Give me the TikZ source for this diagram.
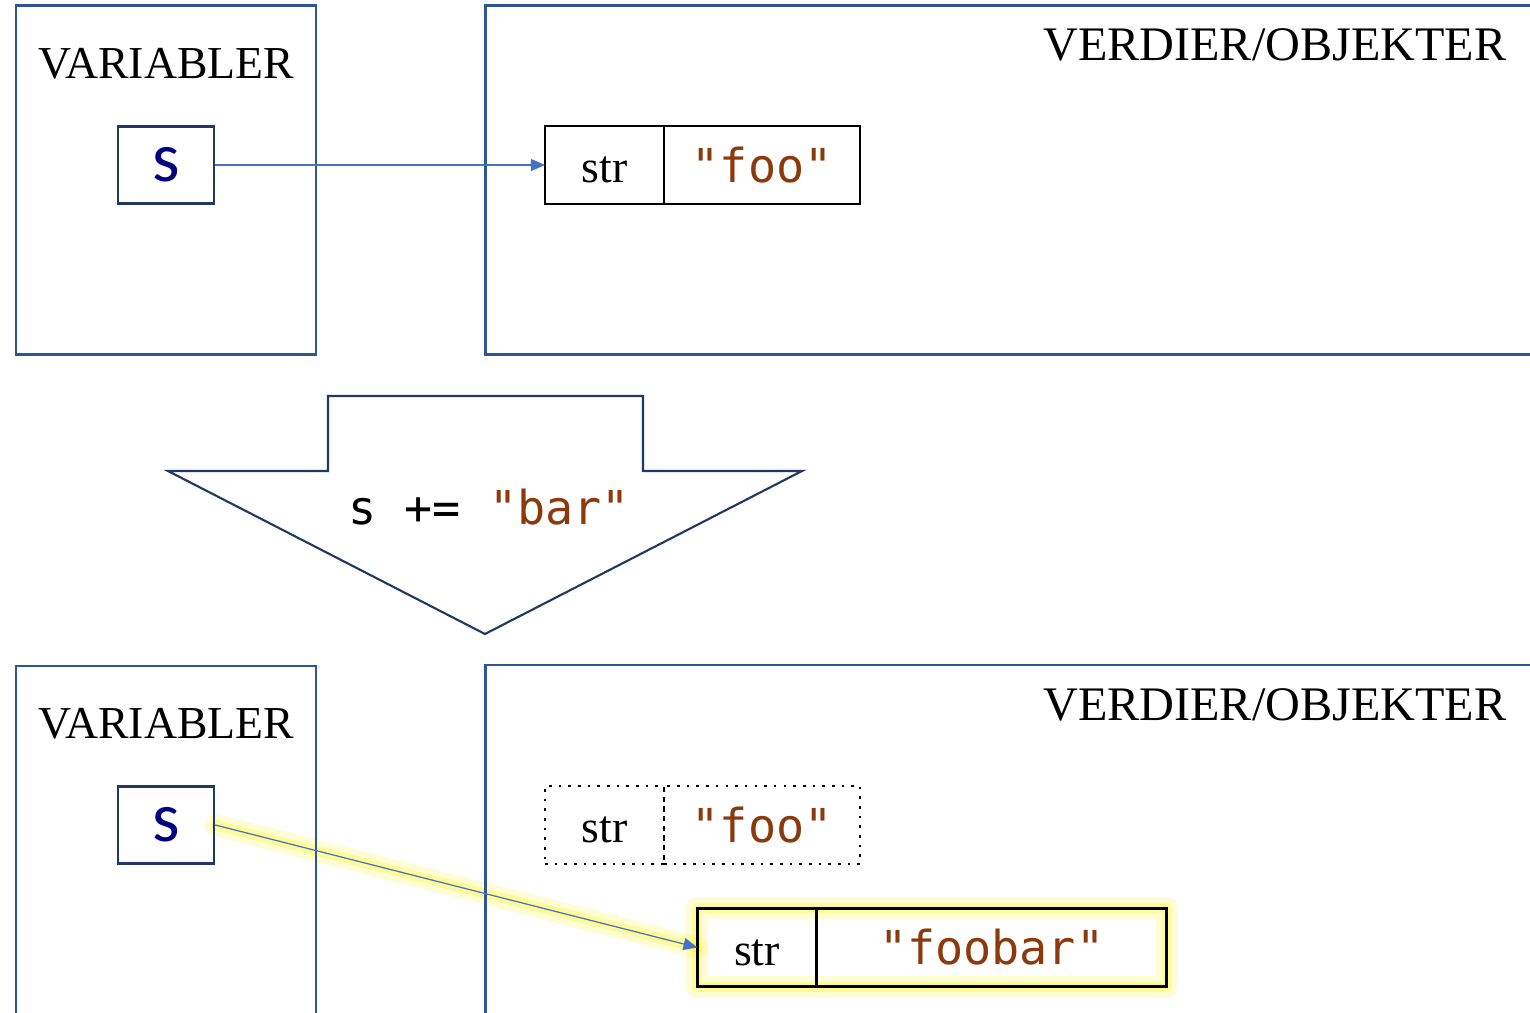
\documentclass[tikz,border=0pt]{standalone}
\usepackage{fontspec}
\setmainfont{Liberation Serif}
\newfontfamily\codefont{DejaVu Sans Mono}
\newfontfamily\varfont{Carlito}
\usetikzlibrary{positioning,arrows.meta,backgrounds}
\definecolor{frameblue}{HTML}{2F5597}
\definecolor{refblue}{HTML}{4472C4}
\definecolor{strbrown}{HTML}{8B3A0E}
\definecolor{navyline}{HTML}{1F3864}
\definecolor{varnavy}{HTML}{000080}
\tikzset{
  area/.style={draw=frameblue,line width=0.85pt},
  areatitle/.style={inner sep=0pt,font=\fontsize{13.7}{16}\selectfont},
  varbox/.style={draw=navyline,line width=0.7pt,minimum width=0.96cm,minimum height=0.77cm,
    font=\varfont\fontsize{20}{22}\selectfont,text=varnavy},
  typecell/.style={draw,line width=0.75pt,outer sep=0pt,minimum width=1.19cm,minimum height=0.78cm,
    text height=1em,text depth=0pt,font=\fontsize{13}{15}\selectfont},
  valcell/.style={draw,line width=0.75pt,outer sep=0pt,minimum height=0.78cm,
    font=\codefont\fontsize{13.3}{15}\selectfont,text=strbrown},
  ref/.style={draw=refblue,line width=0.35pt,-{Triangle[length=0.14cm,width=0.12cm]}},
  glow/.style={draw=yellow,line width=0.22cm,opacity=0.16,line join=round,line cap=round},
  innerglow/.style={draw=yellow,line width=0.1cm,opacity=0.28,line join=round,line cap=round}
}
\begin{document}
\begin{tikzpicture}[x=0.01cm,y=-0.01cm]
  \path[use as bounding box] (0,0) rectangle (1530,1013);
  \clip (0,0) rectangle (1530,1013);
  %% before
  \draw[area] (16,6) rectangle (316,355);
  \draw[area] (485,6) rectangle (1560,355);
  \node[areatitle,anchor=base] (vartitle1) at (166,79) {\fontsize{13}{15}\selectfont VARIABLER};
  \node[areatitle,anchor=base east] (objtitle1) at (1507,61) {VERDIER/OBJEKTER};
  \node[varbox] (s1) at (166,165) {s};
  \node[typecell] (type1) at (604.5,165) {str};
  \node[valcell,minimum width=1.96cm,right=0pt of type1] (val1) {"foo"};
  \draw[ref] (s1.east) -- (type1.west);
  %% operation
  \draw[navyline,line width=0.6pt,fill=white] (328,396) -- (643,396) -- (643,471) -- (802,471)
    -- (485,634) -- (168,471) -- (328,471) -- cycle;
  \node[font=\codefont\fontsize{13.3}{15}\selectfont] (op) at (489,507) {s += {\color{strbrown}"bar"}};
  %% after
  \draw[area] (16,666) rectangle (316,1040);
  \draw[area] (485,665) rectangle (1560,1040);
  \node[areatitle,anchor=base] (vartitle2) at (166,739) {\fontsize{13}{15}\selectfont VARIABLER};
  \node[areatitle,anchor=base east] (objtitle2) at (1507,721) {VERDIER/OBJEKTER};
  \node[varbox] (s2) at (166,825) {s};
  \node[typecell,dotted] (type2) at (604.5,825) {str};
  \node[valcell,dotted,minimum width=1.96cm,right=0pt of type2] (val2) {"foo"};
  \node[typecell] (type3) at (757,947.5) {str};
  \node[valcell,minimum width=3.5cm,right=0pt of type3] (val3) {"foobar"};
  \begin{scope}[on background layer]
    \draw[glow] (type3.north west) rectangle (val3.south east);
    \draw[innerglow] (type3.north west) rectangle (val3.south east);
    \draw[glow] (s2.east) -- (type3.west);
    \draw[innerglow] (s2.east) -- (type3.west);
  \end{scope}
  \draw[ref] (s2.east) -- (type3.west);
\end{tikzpicture}
\end{document}
